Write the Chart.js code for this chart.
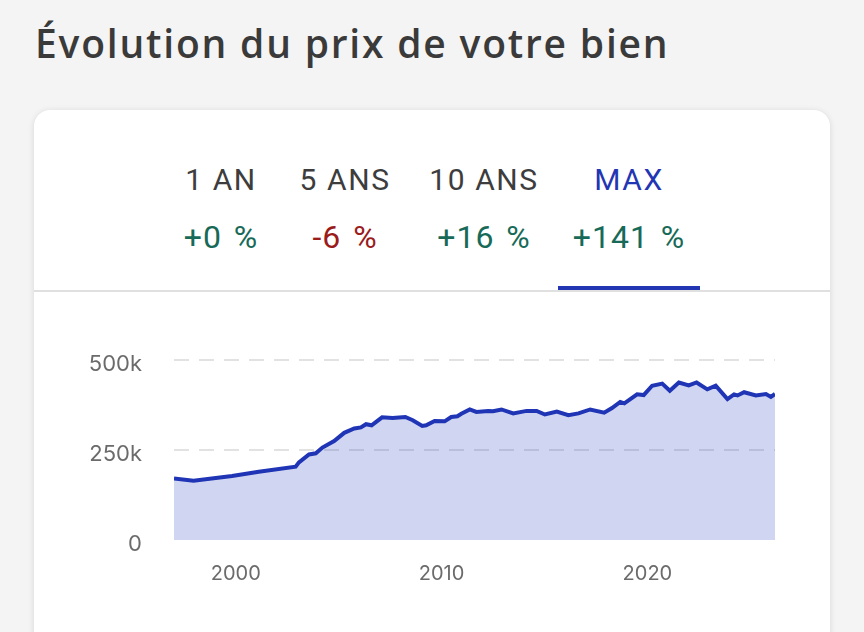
<!DOCTYPE html>
<html lang="fr">
<head>
<meta charset="utf-8">
<title>Évolution du prix de votre bien</title>
<script src="https://cdn.jsdelivr.net/npm/chart.js@4.4.1/dist/chart.umd.min.js"></script>
<style>
  html, body { margin: 0; padding: 0; }
  body {
    width: 864px; height: 632px; overflow: hidden;
    background: #f4f4f4; position: relative;
    font-family: Roboto, "Noto Sans", sans-serif;
  }
  h1 {
    position: absolute; left: 35px; top: 16px; margin: 0;
    font-family: "Open Sans", "Noto Sans", sans-serif;
    font-weight: 650; font-size: 39px; color: #3a3a3a;
    letter-spacing: 1.8px;
  }
  .card {
    position: absolute; left: 34px; top: 110px; width: 796px; height: 560px;
    background: #fff; border-radius: 16px;
    box-shadow: 0 1px 6px rgba(0,0,0,0.12);
  }
  .tabs {
    position: absolute; left: 0; top: 0; width: 100%; height: 180px;
    border-bottom: 2px solid #e0e0e0;
  }
  .tab {
    position: absolute; top: 50px; width: 142px; margin-left: -71px;
    text-align: center; letter-spacing: 1.6px; font-size: 30px;
  }
  .tab .label { color: #3d3d3d; height: 40px; line-height: 40px; }
  .tab .pct { margin-top: 17px; line-height: 40px; font-size: 32px; letter-spacing: 1px; word-spacing: 3px; }
  .tab.active .label { color: #2236b4; }
  .tab.active::after {
    content: ""; position: absolute; left: 0; right: 0; top: 126px;
    height: 4px; background: #2236b4;
  }
  .up { color: #176a57; }
  .down { color: #9b1b1b; }
  #wrap { position: absolute; left: 50px; top: 315px; width: 760px; height: 295px; }
</style>
</head>
<body>
<h1>Évolution du prix de votre bien</h1>
<div class="card">
  <div class="tabs">
    <div class="tab" style="left:187px"><div class="label">1 AN</div><div class="pct up">+0 %</div></div>
    <div class="tab" style="left:311px"><div class="label">5 ANS</div><div class="pct down">-6 %</div></div>
    <div class="tab" style="left:450px"><div class="label">10 ANS</div><div class="pct up">+16 %</div></div>
    <div class="tab active" style="left:595px"><div class="label">MAX</div><div class="pct up">+141 %</div></div>
  </div>
</div>
<div id="wrap"><canvas id="priceChart"></canvas></div>
<script>
// Price history (years as decimals, prices in euros)
const years = [
  1997.0, 1997.95, 1999.82, 2001.12, 2002.91, 2003.07, 2003.56, 2003.89, 2004.21, 2004.78,
  2005.27, 2005.76, 2006.08, 2006.33, 2006.6, 2007.11, 2007.62, 2008.24, 2008.6, 2009.06,
  2009.25, 2009.66, 2010.15, 2010.47, 2010.77, 2010.96, 2011.37, 2011.69, 2012.26, 2012.5,
  2012.91, 2013.48, 2014.13, 2014.62, 2015.02, 2015.6, 2016.16, 2016.65, 2017.22, 2017.9,
  2018.28, 2018.68, 2018.88, 2019.5, 2019.82, 2020.23, 2020.72, 2021.09, 2021.53, 2022.01,
  2022.39, 2022.91, 2023.32, 2023.89, 2024.21, 2024.38, 2024.7, 2025.27, 2025.76, 2026.0,
  2026.2
];
const prices = [
  171000, 165000, 178000, 190000, 204000, 216000, 238000, 241000, 257000, 275000,
  298000, 310000, 313000, 322000, 319000, 341000, 339000, 342000, 333000, 317000,
  319000, 331000, 330000, 342000, 344000, 351000, 363000, 356000, 359000, 358000,
  363000, 352000, 359000, 359000, 349000, 357000, 347000, 352000, 363000, 354000,
  367000, 384000, 380000, 405000, 403000, 429000, 435000, 415000, 438000, 430000,
  438000, 419000, 429000, 392000, 405000, 402000, 411000, 402000, 406000, 398000,
  406000
];
const yearTicks = [2000, 2010, 2020];
const priceTicks = [0, 250000, 500000];

const initChart = () => {
  const ctx = document.getElementById('priceChart')?.getContext('2d');
  if (!ctx) {
    console.warn('Chart canvas not found');
    return;
  }

  try {
    new Chart(ctx, {
      type: 'line',
      data: {
        datasets: [{
          data: years.map((y, i) => ({ x: y, y: prices[i] })),
          borderColor: '#1f35b5',
          backgroundColor: 'rgba(35, 60, 190, 0.21)',
          borderWidth: 4,
          pointRadius: 0,
          tension: 0,
          fill: 'origin'
        }]
      },
      options: {
        responsive: true,
        maintainAspectRatio: false,
        animation: false,
        layout: { padding: { top: 0, right: 35, bottom: 0, left: 0 } },
        plugins: {
          legend: { display: false },
          tooltip: { enabled: false }
        },
        scales: {
          x: {
            type: 'linear',
            min: years[0],
            max: years[years.length - 1],
            afterBuildTicks: scale => { scale.ticks = yearTicks.map(v => ({ value: v })); },
            afterFit: scale => { scale.height = 70; },
            grid: { display: false },
            border: { display: false },
            ticks: {
              color: '#6b6b6b',
              padding: 14,
              font: { family: 'Inter', size: 20 },
              callback: v => String(v)
            }
          },
          y: {
            min: 0,
            max: 500000,
            afterBuildTicks: scale => { scale.ticks = priceTicks.map(v => ({ value: v })); },
            afterFit: scale => { scale.width = 124; },
            grid: {
              drawTicks: false,
              lineWidth: 2,
              color: c => c.tick && c.tick.value === 0 ? 'rgba(0,0,0,0)' : '#e2e2e2'
            },
            border: { display: false, dash: [15, 10] },
            ticks: {
              color: '#6b6b6b',
              padding: 32,
              labelOffset: 4,
              font: { family: 'Inter', size: 22 },
              callback: v => v === 0 ? '0' : (v / 1000) + 'k'
            }
          }
        }
      }
    });
  } catch (error) {
    console.error('Error initializing chart:', error);
  }
};

initChart();
</script>
</body>
</html>
